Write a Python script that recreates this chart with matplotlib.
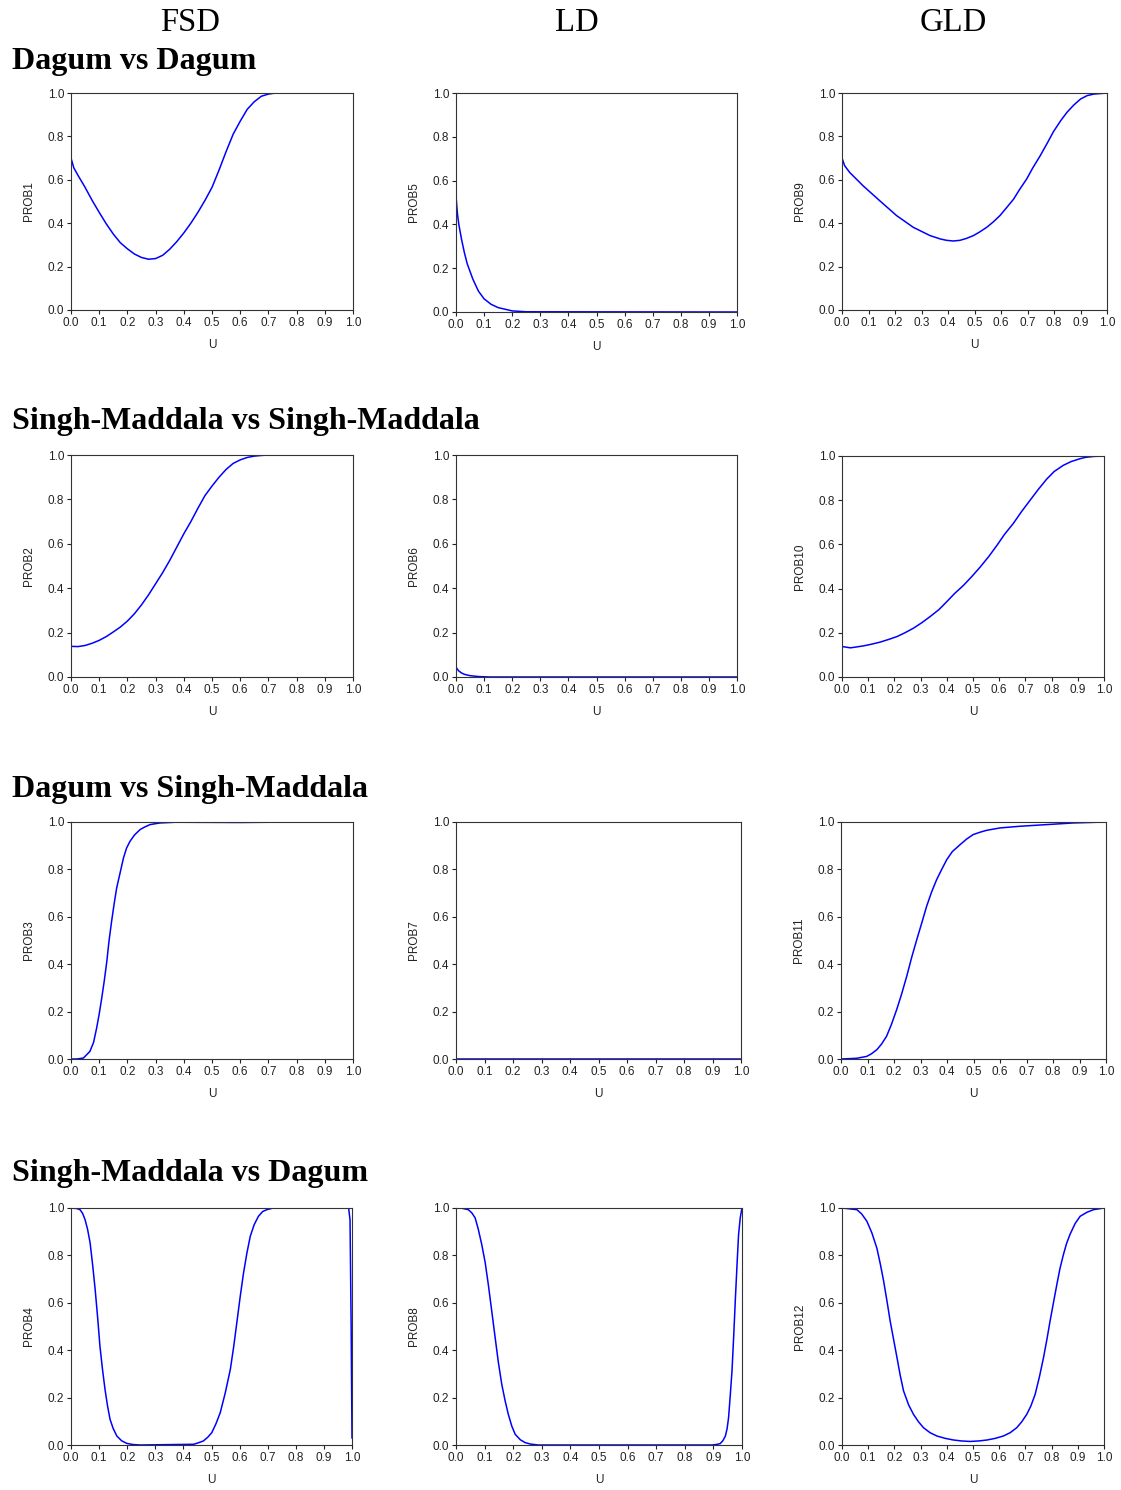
import numpy as np
import matplotlib
matplotlib.use('Agg')
from matplotlib import pyplot as plt

# column headers and row titles
col_titles = ['FSD', 'LD', 'GLD']
row_titles = ['Dagum vs Dagum', 'Singh-Maddala vs Singh-Maddala',
              'Dagum vs Singh-Maddala', 'Singh-Maddala vs Dagum']

# FSD column
u1 = [0, .01, .025, .05, .075, .1, .125, .15, .175, .2, .225, .25, .275, .3, .325, .35, .375, .4, .425, .45,
      .475, .5, .525, .55, .575, .6, .625, .65, .675, .7, .725, .75, 1.0]
prob1 = [.70, .655, .62, .565, .505, .45, .397, .35, .31, .282, .258, .242, .234, .237, .252, .28, .315, .355,
         .40, .45, .505, .565, .645, .73, .81, .87, .925, .96, .985, .995, 1.0, 1.0, 1.0]

u2 = [0, .025, .05, .075, .1, .125, .15, .175, .2, .225, .25, .275, .3, .325, .35, .375, .4, .425, .45, .475,
      .5, .525, .55, .575, .6, .625, .65, .675, .7, .75, 1.0]
prob2 = [.138, .137, .142, .152, .165, .182, .203, .225, .252, .285, .325, .37, .42, .47, .525, .585, .645,
         .70, .76, .817, .86, .90, .935, .962, .978, .989, .995, .998, 1.0, 1.0, 1.0]

u3 = [0, .02, .044, .067, .08, .091, .1, .109, .118, .127, .135, .144, .153, .162, .175, .186, .197, .209,
      .225, .245, .26, .28, .3, .316, .37, .6, .8, 1.0]
prob3 = [0.0, 0.0, .004, .032, .07, .131, .19, .257, .33, .412, .50, .581, .655, .722, .79, .848, .89, .918,
         .945, .968, .978, .989, .993, .996, .999, .998, 1.0, 1.0]

u4 = [0, .02, .032, .041, .05, .059, .068, .077, .086, .095, .103, .112, .121, .13, .139, .15, .163, .18,
      .198, .22, .246, .436, .45, .471, .486, .501, .516, .531, .549, .567, .579, .59, .602, .614, .626,
      .638, .652, .667, .682, .697, .72, .988, .993, .997, 1.0]
prob4 = [1.0, .998, .993, .978, .951, .91, .853, .76, .656, .535, .417, .32, .235, .165, .108, .07, .038,
         .018, .007, .002, 0.0, .003, .008, .017, .032, .052, .09, .136, .22, .319, .415, .515, .625, .726,
         .81, .881, .93, .965, .985, .993, 1.0, 1.0, .95, .5, .03]

# LD column
u5 = [0, .005, .01, .02, .03, .04, .06, .08, .1, .125, .15, .2, .25, 1.0]
prob5 = [.53, .45, .40, .33, .27, .22, .15, .095, .06, .035, .02, .005, .001, 0.0]

u6 = [0, .005, .01, .02, .03, .05, .08, .12, 1.0]
prob6 = [.045, .035, .027, .018, .012, .006, .002, 0.0, 0.0]

u7 = [0, 1.0]
prob7 = [0.0, 0.0]

u8 = [0, .02, .043, .055, .067, .078, .09, .102, .113, .125, .137, .148, .16, .172, .183, .195, .207, .225,
      .242, .26, .288, .895, .91, .924, .933, .942, .948, .953, .959, .965, .971, .977, .983, .988, .994, 1.0]
prob8 = [1.0, .999, .993, .98, .958, .91, .846, .77, .677, .565, .452, .35, .256, .185, .129, .08, .045,
         .022, .01, .004, 0.0, 0.0, .002, .006, .018, .038, .07, .115, .21, .312, .46, .621, .77, .888, .96, 1.0]

# GLD column
u9 = [0, .01, .029, .079, .142, .206, .269, .332, .372, .395, .42, .445, .47, .496, .52, .546, .57, .596,
      .62, .647, .67, .697, .72, .748, .775, .798, .825, .849, .875, .9, .925, .95, 1.0]
prob9 = [.70, .665, .634, .573, .504, .435, .381, .343, .327, .321, .318, .321, .33, .343, .36, .381, .405,
         .435, .47, .51, .555, .604, .655, .711, .77, .822, .872, .911, .945, .972, .988, .995, 1.0]

u10 = [0, .032, .05, .083, .115, .146, .178, .21, .24, .273, .305, .337, .37, .4, .43, .464, .495, .527,
       .56, .591, .62, .654, .685, .718, .75, .781, .81, .845, .875, .909, .93, .96, 1.0]
prob10 = [.138, .132, .135, .141, .149, .158, .17, .183, .20, .221, .246, .274, .305, .341, .378, .415,
          .454, .497, .545, .595, .645, .695, .748, .80, .85, .895, .93, .958, .975, .988, .994, .998, 1.0]

u11 = [0, .059, .097, .115, .135, .153, .172, .19, .21, .229, .248, .267, .286, .305, .323, .342, .361,
       .38, .399, .42, .449, .474, .499, .525, .55, .6, .675, .776, .877, 1.0]
prob11 = [0.0, .003, .011, .022, .039, .063, .096, .145, .208, .275, .349, .43, .504, .575, .644, .705,
          .757, .80, .841, .875, .904, .928, .947, .957, .965, .975, .982, .989, .996, 1.0]

u12 = [0, .057, .075, .095, .114, .133, .146, .159, .172, .184, .197, .21, .222, .235, .254, .273, .292,
       .311, .336, .362, .394, .426, .457, .489, .521, .553, .585, .616, .642, .667, .686, .705, .721, .737,
       .753, .769, .782, .794, .807, .82, .832, .845, .857, .87, .89, .909, .935, .96, 1.0]
prob12 = [1.0, .993, .975, .944, .895, .831, .765, .691, .605, .522, .445, .368, .295, .228, .17, .129,
          .098, .073, .052, .038, .028, .021, .017, .015, .017, .021, .028, .038, .052, .073, .098, .129,
          .165, .213, .285, .368, .445, .522, .60, .677, .745, .803, .85, .888, .935, .965, .982, .993, 1.0]

# rows x cols: (u, prob, label)
panels = [
    [(u1, prob1, 'PROB1'), (u5, prob5, 'PROB5'), (u9, prob9, 'PROB9')],
    [(u2, prob2, 'PROB2'), (u6, prob6, 'PROB6'), (u10, prob10, 'PROB10')],
    [(u3, prob3, 'PROB3'), (u7, prob7, 'PROB7'), (u11, prob11, 'PROB11')],
    [(u4, prob4, 'PROB4'), (u8, prob8, 'PROB8'), (u12, prob12, 'PROB12')],
]

W, H = 1121, 1490
# axes boxes in pixels: left, right, top, bottom
boxes = [
    [(71, 353, 93, 310), (456, 737, 93, 312), (842, 1107, 93, 310)],
    [(71, 353, 455, 677), (456, 737, 455, 677), (842, 1104, 456, 677)],
    [(71, 353, 822, 1059), (456, 741, 822, 1059), (841, 1106, 822, 1059)],
    [(71, 352, 1208, 1445), (456, 742, 1208, 1445), (842, 1104, 1208, 1445)],
]
row_title_y = [61, 422, 789, 1174]
col_title_x = [190, 577, 953]

plt.rcParams['font.family'] = ['Liberation Sans', 'DejaVu Sans']
fig = plt.figure(figsize=(W / 100, H / 100), dpi=100)

for x, t in zip(col_title_x, col_titles):
    fig.text(x / W, 1 - 23 / H, t, ha='center', va='center',
             family='Liberation Serif', fontsize=23.5)
for y, t in zip(row_title_y, row_titles):
    fig.text(12 / W, 1 - y / H, t, ha='left', va='center',
             family='Liberation Serif', fontweight='bold', fontsize=23)

ticks = np.round(np.arange(0, 1.01, 0.1), 1)
for r in range(4):
    for c in range(3):
        l, rr, t, b = boxes[r][c]
        ax = fig.add_axes([l / W, 1 - b / H, (rr - l) / W, (b - t) / H])
        u, p, lab = panels[r][c]
        ax.plot(u, p, color='#0000ff', lw=1.1)
        ax.set_xlim(0, 1)
        ax.set_ylim(0, 1)
        ax.set_xticks(ticks)
        ax.set_xticklabels(['%.1f' % v for v in ticks])
        ax.set_yticks(ticks[::2])
        ax.set_yticklabels(['%.1f' % v for v in ticks[::2]])
        ax.tick_params(direction='out', length=3, width=0.8, labelsize=8.5, pad=2,
                       colors='#222222')
        for s in ax.spines.values():
            s.set_linewidth(0.8)
            s.set_color('#333333')
        ax.set_xlabel('U', fontsize=8.5, labelpad=7, color='#222222')
        ax.set_ylabel(lab, fontsize=8.5, labelpad=9, color='#222222')

fig.savefig('out.png', dpi=100)
